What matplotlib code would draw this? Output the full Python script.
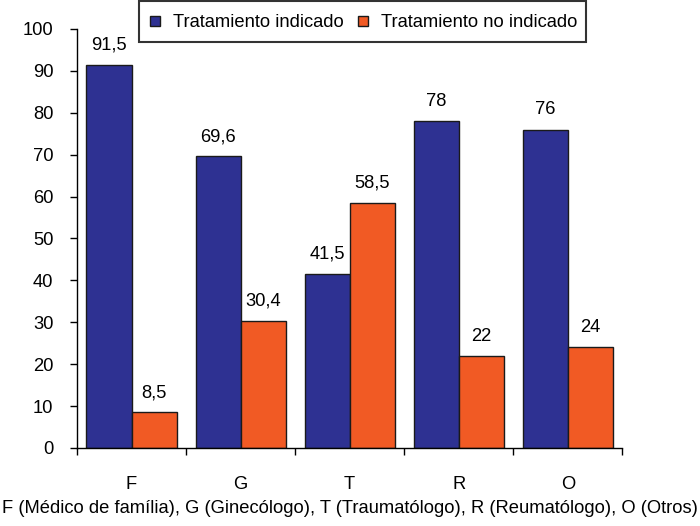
import matplotlib
matplotlib.use("Agg")
import matplotlib.pyplot as plt
from matplotlib.patches import Rectangle
from matplotlib.legend_handler import HandlerPatch
import numpy as np

categories = ["F", "G", "T", "R", "O"]
indicado = [91.5, 69.6, 41.5, 78, 76]
no_indicado = [8.5, 30.4, 58.5, 22, 24]
labels_ind = ["91,5", "69,6", "41,5", "78", "76"]
labels_no = ["8,5", "30,4", "58,5", "22", "24"]
series_names = ["Tratamiento indicado", "Tratamiento no indicado"]
xlabel = "F (Médico de família), G (Ginecólogo), T (Traumatólogo), R (Reumatólogo), O (Otros)"
yticks = [0, 10, 20, 30, 40, 50, 60, 70, 80, 90, 100]

plt.rcParams['font.family'] = ['Liberation Sans', 'DejaVu Sans']
fs = 13.2

fig = plt.figure(figsize=(7, 5.26), dpi=100)
ax = fig.add_axes([0.11, 0.1483, 0.779, 0.7966])

blue = "#2E3192"
orange = "#F15A24"
w = 0.413
x = np.arange(len(categories))
b1 = ax.bar(x - w/2, indicado, w, color=blue, edgecolor="#1a1a1a", linewidth=1.0, label=series_names[0])
b2 = ax.bar(x + w/2, no_indicado, w, color=orange, edgecolor="#1a1a1a", linewidth=1.0, label=series_names[1])

for rect, lab in zip(b1, labels_ind):
    ax.annotate(lab, (rect.get_x() + rect.get_width()/2, rect.get_height()),
                xytext=(0, 8), textcoords="offset points", ha="center", va="bottom", fontsize=fs)
for rect, lab in zip(b2, labels_no):
    ax.annotate(lab, (rect.get_x() + rect.get_width()/2, rect.get_height()),
                xytext=(0, 8), textcoords="offset points", ha="center", va="bottom", fontsize=fs)

ax.set_xlim(-0.5, len(categories) - 0.5)
ax.set_ylim(0, 100)
ax.set_yticks(yticks)
ax.tick_params(axis="y", labelsize=fs, length=5, width=1, direction="out", pad=12)

ax.set_xticks(np.arange(len(categories) + 1) - 0.5)
ax.set_xticklabels([])
ax.set_xticks(x, minor=True)
ax.set_xticklabels(categories, minor=True)
ax.tick_params(axis="x", which="major", length=5, width=1, direction="out")
ax.tick_params(axis="x", which="minor", length=0, labelsize=fs, pad=20)

ax.spines["top"].set_visible(False)
ax.spines["right"].set_visible(False)
ax.spines["left"].set_linewidth(1.0)
ax.spines["bottom"].set_linewidth(1.0)

ax.set_xlabel(xlabel, fontsize=fs, labelpad=5)


def small_square(legend, orig_handle, xdescent, ydescent, width, height, fontsize):
    s = 0.55 * fontsize
    return Rectangle((-xdescent + (width - s) / 2, -ydescent + (height - s) / 2), s, s)


leg = fig.legend(handles=[b1.patches[0], b2.patches[0]], labels=series_names,
                 loc="upper center", bbox_to_anchor=(0.518, 0.999), ncol=2,
                 fontsize=fs, frameon=True, fancybox=False, edgecolor="black",
                 handlelength=0.7, handleheight=1.55, handletextpad=0.63, columnspacing=0.7,
                 borderpad=0.5, borderaxespad=0,
                 handler_map={Rectangle: HandlerPatch(patch_func=small_square)})
leg.get_frame().set_linewidth(1.5)

fig.savefig("out.png", dpi=100)
